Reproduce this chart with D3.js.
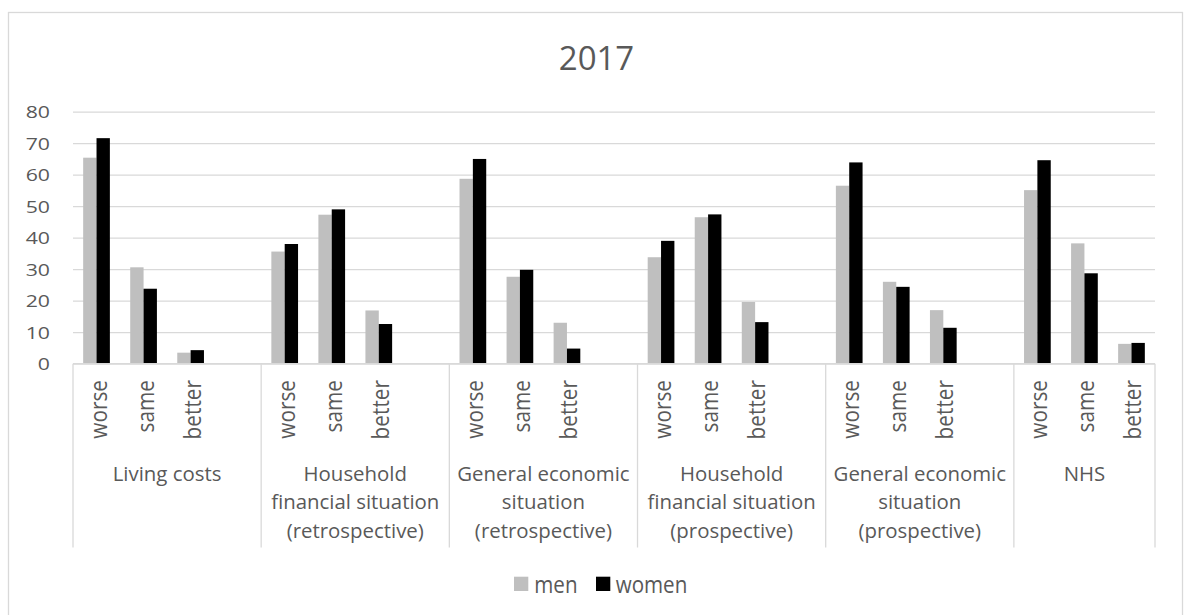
<!DOCTYPE html>
<html>
<head>
<meta charset="utf-8">
<script src="https://cdn.jsdelivr.net/npm/d3@7"></script>
<style>
  html, body { margin: 0; padding: 0; background: #fff; }
  svg { display: block; }
  text { font-family: "Open Sans", "Noto Sans", sans-serif; fill: #595959; }
</style>
</head>
<body>
<svg id="chart" width="1184" height="615"></svg>
<script>
// ---------------- data ----------------
const title = "2017";
const groupLabels = [
  ["Living costs"],
  ["Household", "financial situation", "(retrospective)"],
  ["General economic", "situation", "(retrospective)"],
  ["Household", "financial situation", "(prospective)"],
  ["General economic", "situation", "(prospective)"],
  ["NHS"]
];
const answers = ["worse", "same", "better"];
const seriesNames = ["men", "women"];
const men   = [65.4, 30.6, 3.5, 35.6, 47.3, 16.9, 58.7, 27.6, 13.0, 33.8, 46.5, 19.6, 56.5, 26.0, 17.0, 55.1, 38.2, 6.3];
const women = [71.6, 23.8, 4.3, 38.0, 49.0, 12.6, 65.0, 29.8, 4.8, 39.0, 47.4, 13.2, 63.9, 24.4, 11.4, 64.6, 28.7, 6.6];
const yTicks = [0, 10, 20, 30, 40, 50, 60, 70, 80];
const colors = { men: "#bfbfbf", women: "#000000" };

// ---------------- layout ----------------
const svg = d3.select("#chart");
const plotL = 73, plotR = 1155, plotT = 111.7, plotB = 363.7;
const axisBottom = 547.5;
const grid = "#d9d9d9";

// category slots: each group has 3 answers + one empty spacer slot (except the last group)
const slots = [];
groupLabels.forEach((g, gi) => {
  answers.forEach(a => slots.push(gi + "|" + a));
  if (gi < groupLabels.length - 1) slots.push(gi + "|gap");
});

const x0 = d3.scaleBand().domain(slots).range([plotL, plotR]).paddingInner(0).paddingOuter(0);
const x1 = d3.scaleBand().domain(seriesNames).range([0, x0.bandwidth()]).paddingInner(0).paddingOuter(0.762);
const y = d3.scaleLinear().domain([0, 80]).range([plotB, plotT]);

// helper text with optional scale
function txt(parent, x, yy, s, o) {
  const g = parent.append("g")
    .attr("transform", `translate(${x},${yy}) scale(${o.sx || 1},${o.sy || 1})` + (o.rot ? ` rotate(${o.rot})` : ""));
  return g.append("text")
    .attr("text-anchor", o.anchor || "start")
    .attr("dominant-baseline", o.baseline || "alphabetic")
    .style("font-size", o.size + "px")
    .text(s);
}

// outer border
svg.append("rect").attr("x", 8.5).attr("y", 12.5).attr("width", 1174).attr("height", 640)
  .attr("fill", "none").attr("stroke", grid).attr("stroke-width", 1.3);

// title
txt(svg, 596.5, 70, title, { size: 33, anchor: "middle" });

// gridlines + y labels
const yAxis = d3.axisLeft(y).tickValues(yTicks).tickSize(-(plotR - plotL)).tickFormat(d3.format("d"));
const yg = svg.append("g").attr("transform", `translate(${plotL},0)`).call(yAxis);
yg.select(".domain").remove();
yg.selectAll(".tick line").attr("stroke", grid).attr("stroke-width", 1.3);
yg.selectAll(".tick text").remove();
yTicks.forEach(t => {
  txt(svg, 50, y(t), String(t), { size: 17, sx: 1.25, anchor: "end", baseline: "central" });
});

// bars
const rows = [];
groupLabels.forEach((g, gi) => {
  answers.forEach((a, ai) => {
    const idx = gi * answers.length + ai;
    rows.push({ key: gi + "|" + a, answer: a, men: men[idx], women: women[idx] });
  });
});

const barG = svg.append("g");
rows.forEach(r => {
  seriesNames.forEach(s => {
    barG.append("rect")
      .attr("x", x0(r.key) + x1(s))
      .attr("width", x1.bandwidth())
      .attr("y", y(r[s]))
      .attr("height", y(0) - y(r[s]))
      .attr("fill", colors[s]);
  });
});

// category axis lines
const catG = svg.append("g");
catG.append("line").attr("x1", plotL).attr("x2", plotR).attr("y1", plotB).attr("y2", plotB)
  .attr("stroke", grid).attr("stroke-width", 1.3);
const boundaries = [plotL];
groupLabels.forEach((g, gi) => {
  const lastSlot = gi < groupLabels.length - 1 ? gi + "|gap" : gi + "|better";
  boundaries.push(x0(lastSlot) + x0.bandwidth());
});
boundaries.forEach(bx => {
  catG.append("line").attr("x1", bx).attr("x2", bx).attr("y1", plotB).attr("y2", axisBottom)
    .attr("stroke", grid).attr("stroke-width", 1.3);
});

// rotated answer labels
rows.forEach(r => {
  const cx = x0(r.key) + x0.bandwidth() / 2;
  txt(catG, cx + 10, 380, r.answer, { size: 20.8, sx: 1.15, rot: -90, anchor: "end" });
});

// group labels
groupLabels.forEach((lines, gi) => {
  const gx = (boundaries[gi] + boundaries[gi + 1]) / 2;
  lines.forEach((ln, li) => {
    txt(catG, gx, 480.7 + li * 28.7, ln, { size: 20.4, anchor: "middle" });
  });
});

// legend
const leg = svg.append("g");
const legItems = [
  { name: "men", sq: 514, tx: 534.3 },
  { name: "women", sq: 596, tx: 615.7 }
];
legItems.forEach(it => {
  leg.append("rect").attr("x", it.sq).attr("y", 576.7).attr("width", 14.3).attr("height", 14.3)
    .attr("fill", colors[it.name]);
  txt(leg, it.tx, 583.8, it.name, { size: 20.6, sy: 1.12, baseline: "central" });
});
</script>
</body>
</html>
